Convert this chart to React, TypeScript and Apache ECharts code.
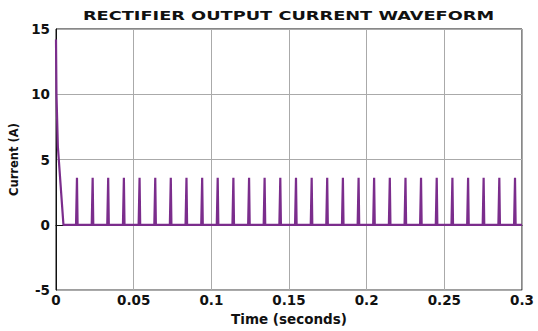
import React, { useEffect, useRef } from "react";
import * as echarts from "echarts";

const xTicks = [0, 0.05, 0.1, 0.15, 0.2, 0.25, 0.3];
const yTicks = [-5, 0, 5, 10, 15];

// initial inrush decay (time s, current A)
const startTimes = [0, 0.0003, 0.0012, 0.0048];
const startValues = [14.2, 10, 6, 0];

// times of the periodic current pulses (s) and their peak (A)
const spikeTimes = [
  0.0135, 0.0236, 0.0336, 0.0437, 0.0538, 0.0639, 0.0739, 0.084, 0.0941, 0.1041,
  0.1142, 0.1243, 0.1343, 0.1444, 0.1545, 0.1646, 0.1746, 0.1847, 0.1948, 0.2048,
  0.2149, 0.225, 0.235, 0.2451, 0.2552, 0.2653, 0.2753, 0.2854, 0.2955,
];
const spikePeaks = [
  3.6, 3.6, 3.6, 3.6, 3.6, 3.6, 3.6, 3.6, 3.6, 3.6, 3.6, 3.6, 3.6, 3.6, 3.6,
  3.6, 3.6, 3.6, 3.6, 3.6, 3.6, 3.6, 3.6, 3.6, 3.6, 3.6, 3.6, 3.6, 3.6,
];
const endTime = 0.3;

const buildData = () => {
  const pts: [number, number][] = [];
  startTimes.forEach((t, i) => pts.push([t, startValues[i]]));
  spikeTimes.forEach((t, i) => {
    pts.push([t - 0.0006, 0]);
    pts.push([t, spikePeaks[i]]);
    pts.push([t + 0.0004, 0]);
  });
  pts.push([endTime, 0]);
  return pts;
};

export default function App() {
  const ref = useRef<HTMLDivElement>(null);
  useEffect(() => {
    if (!ref.current) return;
    const chart = echarts.init(ref.current, null, { renderer: "svg" });
    const font = "DejaVu Sans, Verdana, sans-serif";
    chart.setOption({
      animation: false,
      backgroundColor: "#ffffff",
      graphic: [
        {
          type: "text",
          x: 288.5,
          y: 15.5,
          scaleX: 1.42,
          style: {
            text: "RECTIFIER OUTPUT CURRENT WAVEFORM",
            fontFamily: font,
            fontWeight: "bold",
            fontSize: 12.5,
            fill: "#111",
            textAlign: "center",
            textVerticalAlign: "middle",
          },
        },
      ],
      grid: {
        left: 55,
        right: 16,
        top: 29,
        bottom: 39,
        show: true,
        borderColor: "#111",
        borderWidth: 1,
        backgroundColor: "#fff",
      },
      xAxis: {
        type: "value",
        min: xTicks[0],
        max: xTicks[xTicks.length - 1],
        interval: 0.05,
        name: "Time (seconds)",
        nameLocation: "middle",
        nameGap: 18,
        nameTextStyle: { fontFamily: font, fontWeight: "bold", fontSize: 13.5, color: "#111" },
        axisLine: { lineStyle: { color: "#111" } },
        axisTick: { show: false },
        axisLabel: {
          fontFamily: font,
          fontWeight: "bold",
          fontSize: 13.5,
          color: "#111",
          margin: 3,
          formatter: (v: number) => String(parseFloat(v.toFixed(2))),
        },
        splitLine: { show: true, lineStyle: { color: "#aaaaaa", width: 1 } },
      },
      yAxis: {
        type: "value",
        min: yTicks[0],
        max: yTicks[yTicks.length - 1],
        interval: 5,
        name: "Current (A)",
        nameLocation: "middle",
        nameGap: 36,
        nameTextStyle: { fontFamily: font, fontWeight: "bold", fontSize: 11.5, color: "#111" },
        axisLine: { lineStyle: { color: "#111" } },
        axisTick: { show: false },
        axisLabel: {
          fontFamily: font,
          fontWeight: "bold",
          fontSize: 13.5,
          color: "#111",
          margin: 6,
        },
        splitLine: { show: true, lineStyle: { color: "#aaaaaa", width: 1 } },
      },
      series: [
        {
          type: "line",
          data: buildData(),
          showSymbol: false,
          symbol: "none",
          lineStyle: { color: "#7b2d8c", width: 2.2 },
          clip: true,
        },
      ],
    });
    return () => chart.dispose();
  }, []);
  return (
    <div
      ref={ref}
      style={{ position: "fixed", left: 0, top: 0, width: 538, height: 331 }}
    />
  );
}
